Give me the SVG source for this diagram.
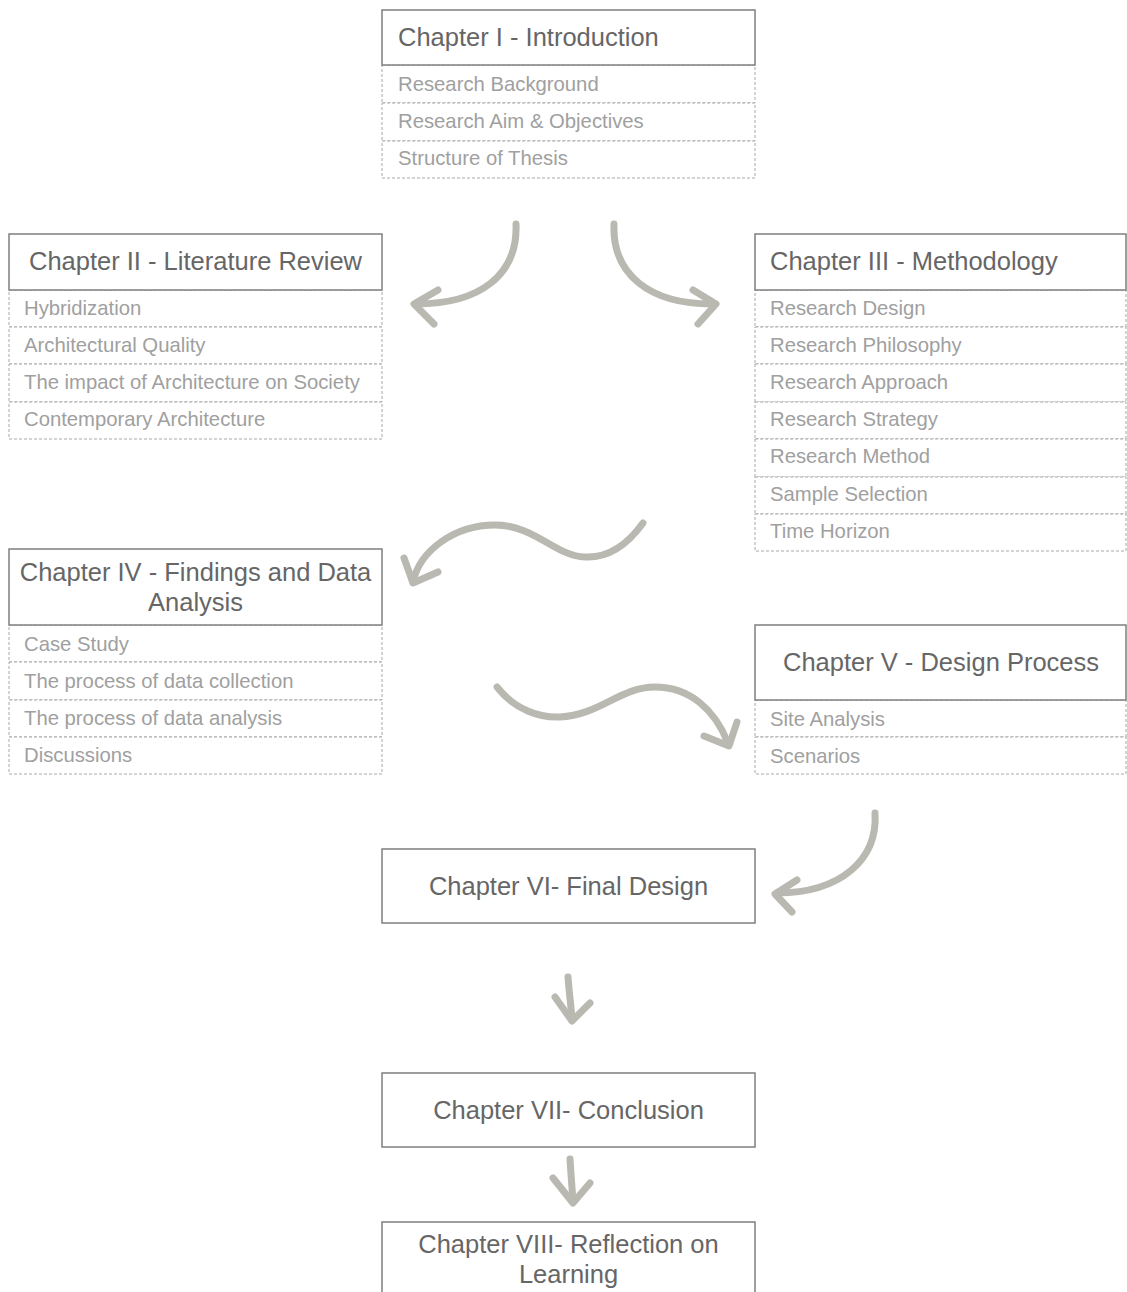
<svg xmlns="http://www.w3.org/2000/svg" width="1127" height="1292" viewBox="0 0 1127 1292">
  <style>
    .hd { fill: #ffffff; stroke: #7f7f7f; stroke-width: 1.5; }
    .sub { fill: #ffffff; stroke: #a8a8a8; stroke-width: 1; stroke-dasharray: 3 2; }
    .ht { font-family: "Liberation Sans", Arial, sans-serif; font-size: 25.5px; fill: #666666; }
    .st { font-family: "Liberation Sans", Arial, sans-serif; font-size: 20.3px; fill: #a0a0a0; }
    .mid { text-anchor: middle; }
    .arr { fill: none; stroke: #b9b9b1; stroke-width: 7; stroke-linecap: round; stroke-linejoin: round; }
  </style>

  <!-- Chapter I -->
  <g id="ch1">
    <rect class="sub" x="382" y="65" width="373" height="38"/>
    <rect class="sub" x="382" y="103" width="373" height="38"/>
    <rect class="sub" x="382" y="141" width="373" height="37"/>
    <rect class="hd" x="382" y="10" width="373" height="55"/>
    <text class="ht" x="398" y="46">Chapter I - Introduction</text>
    <text class="st" x="398" y="91">Research Background</text>
    <text class="st" x="398" y="128">Research Aim &amp; Objectives</text>
    <text class="st" x="398" y="165">Structure of Thesis</text>
  </g>

  <!-- Chapter II -->
  <g id="ch2">
    <rect class="sub" x="9" y="290" width="373" height="37"/>
    <rect class="sub" x="9" y="327" width="373" height="37"/>
    <rect class="sub" x="9" y="364" width="373" height="38"/>
    <rect class="sub" x="9" y="402" width="373" height="37"/>
    <rect class="hd" x="9" y="234" width="373" height="56"/>
    <text class="ht mid" x="195.5" y="270">Chapter II - Literature Review</text>
    <text class="st" x="24" y="315">Hybridization</text>
    <text class="st" x="24" y="352">Architectural Quality</text>
    <text class="st" x="24" y="389">The impact of Architecture on Society</text>
    <text class="st" x="24" y="426">Contemporary Architecture</text>
  </g>

  <!-- Chapter III -->
  <g id="ch3">
    <rect class="sub" x="755" y="290" width="371" height="37"/>
    <rect class="sub" x="755" y="327" width="371" height="37"/>
    <rect class="sub" x="755" y="364" width="371" height="38"/>
    <rect class="sub" x="755" y="402" width="371" height="37"/>
    <rect class="sub" x="755" y="439" width="371" height="38"/>
    <rect class="sub" x="755" y="477" width="371" height="37"/>
    <rect class="sub" x="755" y="514" width="371" height="37"/>
    <rect class="hd" x="755" y="234" width="371" height="56"/>
    <text class="ht" x="770" y="270">Chapter III - Methodology</text>
    <text class="st" x="770" y="315">Research Design</text>
    <text class="st" x="770" y="352">Research Philosophy</text>
    <text class="st" x="770" y="389">Research Approach</text>
    <text class="st" x="770" y="426">Research Strategy</text>
    <text class="st" x="770" y="463">Research Method</text>
    <text class="st" x="770" y="501">Sample Selection</text>
    <text class="st" x="770" y="538">Time Horizon</text>
  </g>

  <!-- Chapter IV -->
  <g id="ch4">
    <rect class="sub" x="9" y="625" width="373" height="37"/>
    <rect class="sub" x="9" y="662" width="373" height="38"/>
    <rect class="sub" x="9" y="700" width="373" height="37"/>
    <rect class="sub" x="9" y="737" width="373" height="37"/>
    <rect class="hd" x="9" y="549" width="373" height="76"/>
    <text class="ht mid" x="195.5" y="581">Chapter IV - Findings and Data</text>
    <text class="ht mid" x="195.5" y="611">Analysis</text>
    <text class="st" x="24" y="651">Case Study</text>
    <text class="st" x="24" y="688">The process of data collection</text>
    <text class="st" x="24" y="725">The process of data analysis</text>
    <text class="st" x="24" y="762">Discussions</text>
  </g>

  <!-- Chapter V -->
  <g id="ch5">
    <rect class="sub" x="755" y="700" width="371" height="37"/>
    <rect class="sub" x="755" y="737" width="371" height="37"/>
    <rect class="hd" x="755" y="625" width="371" height="75"/>
    <text class="ht mid" x="941" y="671">Chapter V - Design Process</text>
    <text class="st" x="770" y="726">Site Analysis</text>
    <text class="st" x="770" y="763">Scenarios</text>
  </g>

  <!-- Chapter VI -->
  <g id="ch6">
    <rect class="hd" x="382" y="849" width="373" height="74"/>
    <text class="ht mid" x="568.5" y="895">Chapter VI- Final Design</text>
  </g>

  <!-- Chapter VII -->
  <g id="ch7">
    <rect class="hd" x="382" y="1073" width="373" height="74"/>
    <text class="ht mid" x="568.5" y="1119">Chapter VII- Conclusion</text>
  </g>

  <!-- Chapter VIII -->
  <g id="ch8">
    <rect class="hd" x="382" y="1222" width="373" height="80"/>
    <text class="ht mid" x="568.5" y="1253">Chapter VIII- Reflection on</text>
    <text class="ht mid" x="568.5" y="1283">Learning</text>
  </g>

  <!-- hand-drawn style connectors -->
  <g id="connectors">
    <path class="arr" d="M516,224 C518,275 480,304 416,304"/>
    <path class="arr" d="M438,290 L414,304 L434,324"/>

    <path class="arr" d="M614,224 C612,275 650,304 712,304"/>
    <path class="arr" d="M693,290 L716,304 L698,324"/>

    <path class="arr" d="M643,523 C625,548 605,558 585,557 C555,556 535,525 495,525 C455,525 420,550 413,582"/>
    <path class="arr" d="M404,558 L413,583 L438,572"/>

    <path class="arr" d="M497,687 C515,710 540,718 560,717 C600,715 620,687 655,687 C690,687 715,710 728,743"/>
    <path class="arr" d="M737,722 L729,746 L704,736"/>

    <path class="arr" d="M875,813 C878,860 840,893 777,893"/>
    <path class="arr" d="M797,880 L775,894 L792,912"/>

    <path class="arr" d="M568,977 C569,992 571,1005 572,1019"/>
    <path class="arr" d="M555,997 L572,1021 L590,1003"/>

    <path class="arr" d="M570,1159 C571,1175 572,1188 573,1201"/>
    <path class="arr" d="M553,1178 L573,1203 L590,1183"/>
  </g>
</svg>
